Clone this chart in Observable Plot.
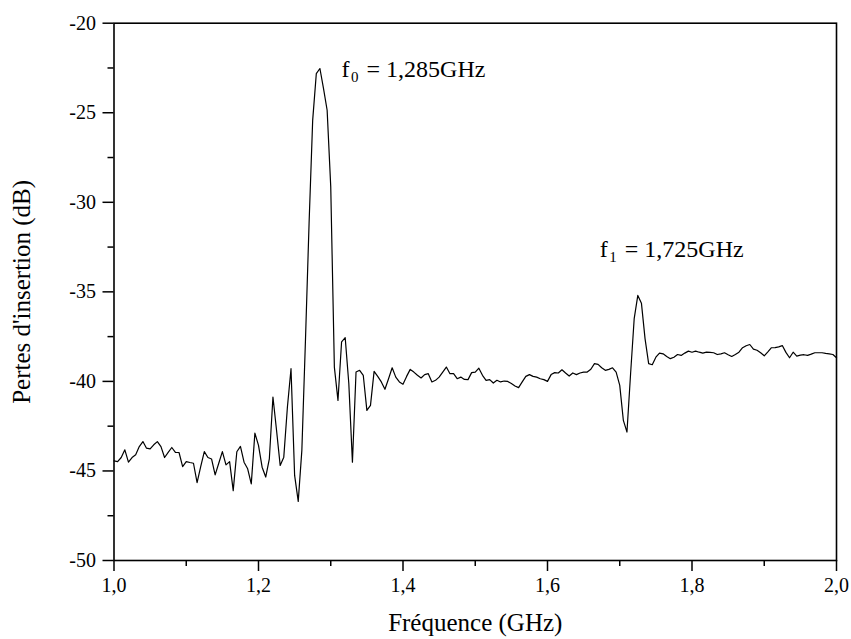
<!DOCTYPE html>
<html>
<head>
<meta charset="utf-8">
<script src="https://cdn.jsdelivr.net/npm/d3@7"></script>
<script src="https://cdn.jsdelivr.net/npm/@observablehq/plot@0.6"></script>
<style>
  html, body { margin: 0; padding: 0; background: #fff; }
  #chart svg { display: block; }
</style>
</head>
<body>
<div id="chart"></div>
<script>
// Frequency sweep (GHz)
const freq = [
  1.000,1.005,1.010,1.015,1.020,1.025,1.030,1.035,1.040,1.045,
  1.050,1.055,1.060,1.065,1.070,1.075,1.080,1.085,1.090,1.095,
  1.100,1.105,1.110,1.115,1.120,1.125,1.130,1.135,1.140,1.145,
  1.150,1.155,1.160,1.165,1.170,1.175,1.180,1.185,1.190,1.195,
  1.200,1.205,1.210,1.215,1.220,1.225,1.230,1.235,1.240,1.245,
  1.250,1.255,1.260,1.265,1.270,1.275,1.280,1.285,1.290,1.295,
  1.300,1.305,1.310,1.315,1.320,1.325,1.330,1.335,1.340,1.345,
  1.350,1.355,1.360,1.365,1.370,1.375,1.380,1.385,1.390,1.395,
  1.400,1.405,1.410,1.415,1.420,1.425,1.430,1.435,1.440,1.445,
  1.450,1.455,1.460,1.465,1.470,1.475,1.480,1.485,1.490,1.495,
  1.500,1.505,1.510,1.515,1.520,1.525,1.530,1.535,1.540,1.545,
  1.550,1.555,1.560,1.565,1.570,1.575,1.580,1.585,1.590,1.595,
  1.600,1.605,1.610,1.615,1.620,1.625,1.630,1.635,1.640,1.645,
  1.650,1.655,1.660,1.665,1.670,1.675,1.680,1.685,1.690,1.695,
  1.700,1.705,1.710,1.715,1.720,1.725,1.730,1.735,1.740,1.745,
  1.750,1.755,1.760,1.765,1.770,1.775,1.780,1.785,1.790,1.795,
  1.800,1.805,1.810,1.815,1.820,1.825,1.830,1.835,1.840,1.845,
  1.850,1.855,1.860,1.865,1.870,1.875,1.880,1.885,1.890,1.895,
  1.900,1.905,1.910,1.915,1.920,1.925,1.930,1.935,1.940,1.945,
  1.950,1.955,1.960,1.965,1.970,1.975,1.980,1.985,1.990,1.995,
  2.000
];

// Insertion loss (dB)
const loss = [
  -44.44,-44.48,-44.25,-43.82,-44.51,-44.25,-44.10,-43.64,-43.36,-43.73,
  -43.77,-43.54,-43.36,-43.64,-44.25,-43.96,-43.69,-43.96,-43.97,-44.76,
  -44.48,-44.53,-44.57,-45.65,-44.76,-43.92,-44.25,-44.33,-45.22,-44.57,
  -43.92,-44.66,-44.48,-46.10,-43.93,-43.63,-44.51,-44.88,-45.72,-42.89,
  -43.57,-44.79,-45.34,-44.32,-40.87,-42.74,-44.69,-44.23,-41.44,-39.29,
  -45.25,-46.70,-43.85,-37.70,-31.18,-25.41,-22.82,-22.53,-23.65,-24.86,
  -29.14,-39.20,-41.06,-37.79,-37.56,-40.12,-44.51,-39.48,-39.38,-39.66,
  -41.62,-41.34,-39.44,-39.72,-40.03,-40.44,-39.85,-39.24,-39.76,-40.03,
  -40.16,-39.72,-39.33,-39.48,-39.66,-39.81,-39.62,-39.57,-40.03,-39.94,
  -39.76,-39.48,-39.20,-39.57,-39.57,-39.85,-39.76,-39.89,-39.90,-39.51,
  -39.48,-39.26,-39.66,-39.94,-39.90,-40.09,-39.94,-40.03,-39.98,-40.00,
  -40.12,-40.26,-40.35,-40.03,-39.72,-39.62,-39.72,-39.76,-39.85,-39.90,
  -40.00,-39.62,-39.51,-39.53,-39.35,-39.53,-39.70,-39.53,-39.62,-39.53,
  -39.48,-39.48,-39.32,-39.01,-39.05,-39.24,-39.38,-39.33,-39.24,-39.48,
  -40.22,-42.18,-42.83,-39.57,-36.49,-35.20,-35.63,-37.61,-39.01,-39.07,
  -38.65,-38.42,-38.46,-38.61,-38.73,-38.65,-38.50,-38.55,-38.42,-38.31,
  -38.37,-38.31,-38.37,-38.42,-38.37,-38.38,-38.40,-38.50,-38.46,-38.40,
  -38.51,-38.61,-38.50,-38.37,-38.12,-38.01,-37.94,-38.20,-38.26,-38.40,
  -38.57,-38.35,-38.12,-38.11,-38.07,-38.00,-38.38,-38.68,-38.37,-38.59,
  -38.53,-38.51,-38.55,-38.48,-38.40,-38.40,-38.40,-38.44,-38.46,-38.50,
  -38.68
];

const xTicks = [1.0, 1.2, 1.4, 1.6, 1.8, 2.0];
const xTickLabels = ["1,0", "1,2", "1,4", "1,6", "1,8", "2,0"];
const xMinorTicks = [1.1, 1.3, 1.5, 1.7, 1.9];
const yTicks = [-50, -45, -40, -35, -30, -25, -20];
const yTickLabels = ["-50", "-45", "-40", "-35", "-30", "-25", "-20"];
const yMinorTicks = [-47.5, -42.5, -37.5, -32.5, -27.5, -22.5];

// Resonance annotations (anchor in GHz / dB)
const annFreq = [1.315, 1.6724];
const annLevel = [-23.0, -33.05];
const annSub = ["0", "1"];
const annText = ["= 1,285GHz", "= 1,725GHz"];

const xLabel = "Fréquence (GHz)";
const yLabel = "Pertes d'insertion (dB)";

const data = freq.map((f, i) => ({f, v: loss[i]}));
const ann = annFreq.map((x, i) => ({x, y: annLevel[i], sub: annSub[i], text: annText[i]}));

const serif = "'Liberation Serif', 'Times New Roman', Times, serif";

const chart = Plot.plot({
  width: 851,
  height: 639,
  marginLeft: 113.5,
  marginRight: 15,
  marginTop: 22.7,
  marginBottom: 79,
  style: {fontFamily: serif, background: "white", color: "black", overflow: "visible"},
  x: {domain: [1, 2]},
  y: {domain: [-50, -20]},
  marks: [
    Plot.line(data, {x: "f", y: "v", stroke: "black", strokeWidth: 1.2}),
    Plot.frame({stroke: "black", strokeWidth: 1.6}),
    Plot.axisX({ticks: xTicks, tickSize: 11, tickPadding: 6, strokeWidth: 1.5, fontSize: 20,
      tickFormat: d => xTickLabels[xTicks.indexOf(d)], label: null}),
    Plot.axisX({ticks: xMinorTicks, tickSize: 6, strokeWidth: 1.5, tickFormat: () => "", label: null}),
    Plot.axisY({ticks: yTicks, tickSize: 11, tickPadding: 7, strokeWidth: 1.5, fontSize: 20,
      tickFormat: d => yTickLabels[yTicks.indexOf(d)], label: null}),
    Plot.axisY({ticks: yMinorTicks, tickSize: 6, strokeWidth: 1.5, tickFormat: () => "", label: null}),
    Plot.text([xLabel], {frameAnchor: "bottom", dy: 70, lineAnchor: "bottom", fontSize: 25, fill: "black"}),
    Plot.text([yLabel], {frameAnchor: "left", dx: -92, rotate: -90, textAnchor: "middle", lineAnchor: "middle", fontSize: 25, fill: "black"}),
    Plot.text(ann, {x: "x", y: "y", text: () => "f", textAnchor: "start", lineAnchor: "bottom", fontSize: 24, fill: "black"}),
    Plot.text(ann, {x: "x", y: "y", text: "sub", dx: 9.5, dy: 5, textAnchor: "start", lineAnchor: "bottom", fontSize: 15, fill: "black"}),
    Plot.text(ann, {x: "x", y: "y", text: "text", dx: 25, textAnchor: "start", lineAnchor: "bottom", fontSize: 24, fill: "black"})
  ]
});

document.getElementById("chart").appendChild(chart);
</script>
</body>
</html>
